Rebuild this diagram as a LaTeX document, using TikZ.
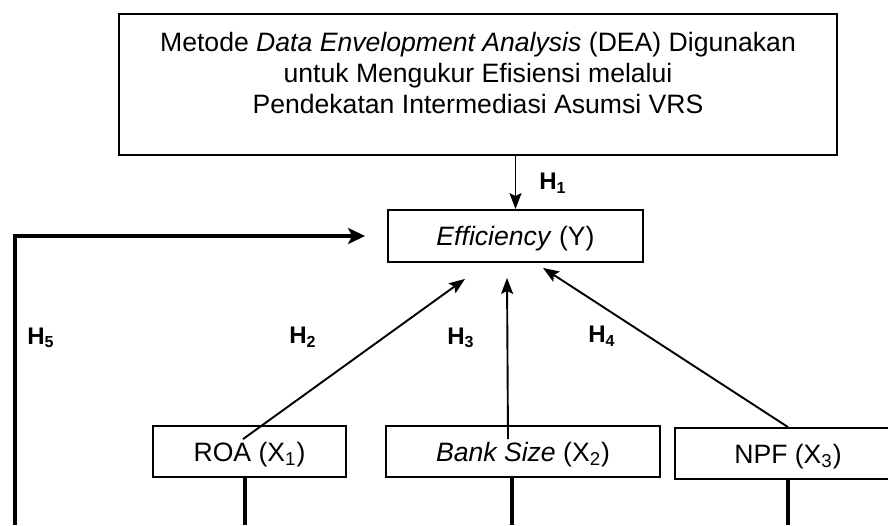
\documentclass[tikz,border=0pt]{standalone}
\usepackage{fontspec}
\setmainfont{Liberation Sans}
\usetikzlibrary{arrows.meta,shapes}
\tikzstyle{block}=[draw,line width=0.9pt,inner sep=0pt,align=center,font=\fontsize{13.3}{15.5}\selectfont]
\tikzstyle{hyp}=[font=\fontsize{12}{13}\selectfont\bfseries]
\tikzstyle{edge} = [draw,line width=0.95pt,-{Stealth[length=8pt,width=6pt,inset=1.5pt]}]
\tikzstyle{link} = [draw,line width=2.4pt]

\begin{document}
\begin{tikzpicture}[x=0.5pt,y=-0.5pt]
  \clip (0,0) rectangle (888,525);
  \node[block,line width=1pt,minimum width=359pt,minimum height=70.5pt] (dea) at (478,84.5)
    {Metode \textit{Data Envelopment Analysis} (DEA) Digunakan\\ untuk Mengukur Efisiensi melalui\\ Pendekatan Intermediasi Asumsi VRS\\[-4pt]\mbox{}};
  \node[block,text depth=0pt,minimum width=127.5pt,minimum height=26pt] (eff) at (515.5,236) {\textit{Efficiency} (Y)};
  \node[block,text depth=0pt,minimum width=96.5pt,minimum height=25.5pt] (roa) at (249.5,451.5) {ROA (X\textsubscript{1})};
  \node[block,text depth=0pt,minimum width=137pt,minimum height=25.5pt] (bank) at (523,451.5) {\textit{Bank Size} (X\textsubscript{2})};
  \node[block,text depth=0pt,minimum width=113pt,minimum height=25.5pt] (npf) at (788,453.5) {NPF (X\textsubscript{3})};
  % hypothesis labels
  \node[hyp] (h1) at (553,183) {H\textsubscript{1}};
  \node[hyp] (h2) at (303,337) {H\textsubscript{2}};
  \node[hyp] (h3) at (461,338) {H\textsubscript{3}};
  \node[hyp] (h4) at (602,336) {H\textsubscript{4}};
  \node[hyp] (h5) at (41,338) {H\textsubscript{5}};
  \coordinate (h5foot) at (15,525);
  \coordinate (roafoot) at (245,525);
  \coordinate (bankfoot) at (512,525);
  \coordinate (npffoot) at (788,525);
  \draw[edge] (dea.south -| eff.north) -- (eff.north);
  \draw[edge] ([shift={(-6.5,14)}]roa.north) -- ([shift={(-50.5,16)}]eff.south);
  \draw[edge] ([shift={(-15,14)}]bank.north) -- ([shift={(-8.5,15)}]eff.south);
  \draw[edge] (npf.north) -- ([shift={(27.5,5)}]eff.south);
  \draw[link,-{Stealth[length=8.5pt,width=8pt,inset=2pt]}] (h5foot) |- ([shift={(-22,0)}]eff.west);
  \draw[link] (roa.south -| roafoot) -- (roafoot);
  \draw[link] (bank.south -| bankfoot) -- (bankfoot);
  \draw[link] (npf.south -| npffoot) -- (npffoot);
\end{tikzpicture}
\end{document}
